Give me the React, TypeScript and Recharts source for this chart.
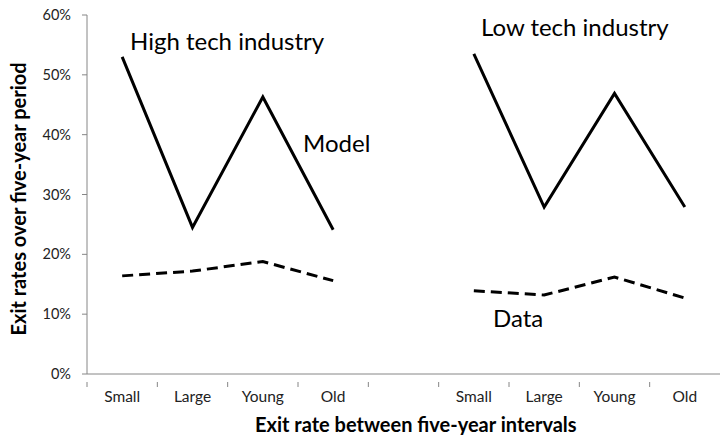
import { LineChart, Line, XAxis, YAxis } from "recharts";

const categories = ["Small", "Large", "Young", "Old", "", "Small", "Large", "Young", "Old"];
const modelRates = [0.53, 0.245, 0.463, 0.241, null, 0.535, 0.279, 0.469, 0.279];
const dataRates = [0.164, 0.172, 0.188, 0.156, null, 0.139, 0.132, 0.162, 0.127];
const yTicks = [0, 0.1, 0.2, 0.3, 0.4, 0.5, 0.6];

const chartData = categories.map((name, i) => ({
  idx: i,
  name,
  model: modelRates[i],
  data: dataRates[i],
}));

const W = 720;
const H = 435;
const margin = { top: 15, right: 0, bottom: 0, left: 0 };
const yAxisWidth = 87;
const xAxisHeight = 61;
const band = (W - margin.left - margin.right - yAxisWidth) / categories.length;
const font = "Lato, 'Open Sans', sans-serif";
const axisGray = "#868686";

interface TickProps {
  x?: number;
  y?: number;
  payload?: { value: number };
}

function CategoryTick({ x = 0, y = 0, payload }: TickProps) {
  const label = categories[payload?.value ?? 0];
  return (
    <g>
      <line x1={x - band / 2} x2={x - band / 2} y1={y} y2={y + 5} stroke={axisGray} />
      <text x={x} y={y + 20} textAnchor="middle" fontSize={15.5} fontFamily={font} fill="#222">
        {label}
      </text>
    </g>
  );
}

const note = (left: number, top: number, size: number, bold = false): React.CSSProperties => ({
  position: "absolute",
  left,
  top,
  fontSize: size,
  fontFamily: font,
  fontWeight: bold ? 700 : 400,
  color: "#000",
  whiteSpace: "nowrap",
  lineHeight: 1,
});

export default function App() {
  return (
    <div style={{ position: "absolute", left: 0, top: 0, width: W, height: H, background: "#fff" }}>
      <LineChart width={W} height={H} data={chartData} margin={margin}>
        <XAxis
          dataKey="idx"
          type="category"
          scale="band"
          height={xAxisHeight}
          interval={0}
          tick={<CategoryTick />}
          tickLine={false}
          axisLine={{ stroke: axisGray }}
        />
        <YAxis
          domain={[0, 0.6]}
          ticks={yTicks}
          width={yAxisWidth}
          tickFormatter={(v: number) => `${Math.round(v * 100)}%`}
          tick={{ fontSize: 14.5, fontFamily: font, fill: "#222" }}
          tickSize={5}
          tickMargin={11}
          tickLine={{ stroke: axisGray }}
          axisLine={{ stroke: axisGray }}
        />
        <Line
          dataKey="model"
          stroke="#000"
          strokeWidth={3}
          dot={false}
          type="linear"
          isAnimationActive={false}
        />
        <Line
          dataKey="data"
          stroke="#000"
          strokeWidth={3}
          strokeDasharray="11 6"
          dot={false}
          type="linear"
          isAnimationActive={false}
        />
      </LineChart>
      <div style={note(130, 29, 24)}>High tech industry</div>
      <div style={note(303, 131, 24)}>Model</div>
      <div style={note(481, 15, 24)}>Low tech industry</div>
      <div style={note(493, 306, 24)}>Data</div>
      <div style={{ ...note(0, 0, 20, true), left: 255, top: 414 }}>Exit rate between five-year intervals</div>
      <div
        style={{
          ...note(0, 0, 20, true),
          left: 18,
          top: 199,
          transform: "translate(-50%, -50%) rotate(-90deg)",
        }}
      >
        Exit rates over five-year period
      </div>
    </div>
  );
}
